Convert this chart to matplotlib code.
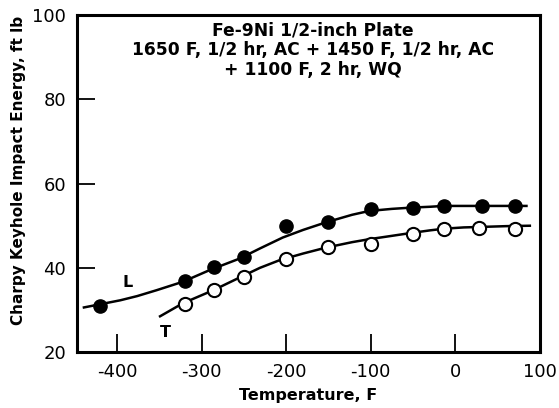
import matplotlib.pyplot as plt

# data points
temp_L = [-420, -320, -285, -250, -200, -150, -100, -50, -14, 31, 71]
energy_L = [31.0, 36.8, 40.2, 42.6, 49.9, 50.8, 53.9, 54.2, 54.7, 54.7, 54.6]

temp_T = [-320, -285, -250, -200, -150, -100, -50, -14, 28, 71]
energy_T = [31.4, 34.7, 37.9, 42.0, 44.9, 45.6, 48.0, 49.2, 49.5, 49.3]

# faired curves drawn through the points (waypoints)
curve_L_x = [-439, -396, -376, -353, -322, -290, -255, -231, -204, -180, -153, -122, -102,
             -75, -52, -30, -14, 10, 31, 60, 84]
curve_L_y = [30.6, 32.3, 33.3, 34.7, 36.7, 39.5, 42.2, 44.6, 47.2, 49.0, 50.8, 52.6, 53.5,
             54.0, 54.3, 54.5, 54.7, 54.7, 54.7, 54.7, 54.7]
curve_T_x = [-349, -322, -286, -255, -231, -208, -180, -153, -122, -102, -75, -55, -30, -13,
             10, 28, 60, 88]
curve_T_y = [28.5, 31.6, 34.7, 37.7, 40.0, 41.8, 43.4, 44.8, 46.1, 46.8, 47.6, 48.2, 48.9, 49.3,
             49.6, 49.7, 49.9, 50.0]

xticks = [-400, -300, -200, -100, 0, 100]
xtick_labels = ['-400', '-300', '-200', '-100', '0', '100']
yticks = [20, 40, 60, 80, 100]

title = 'Fe-9Ni 1/2-inch Plate\n1650 F, 1/2 hr, AC + 1450 F, 1/2 hr, AC\n+ 1100 F, 2 hr, WQ'

fig = plt.figure(figsize=(5.59, 4.08), dpi=100)
ax = fig.add_axes([0.138, 0.137, 0.828, 0.826])

ax.plot(curve_L_x, curve_L_y, 'k-', lw=1.8)
ax.plot(curve_T_x, curve_T_y, 'k-', lw=1.8)
ax.plot(temp_L, energy_L, 'o', color='black', ms=9.5, zorder=3)
ax.plot(temp_T, energy_T, 'o', mfc='white', mec='black', mew=1.5, ms=9.5, zorder=3)

ax.text(-387, 36.6, 'L', fontsize=11.5, fontweight='bold', ha='center', va='center')
ax.text(-343, 24.7, 'T', fontsize=11.5, fontweight='bold', ha='center', va='center')

ax.text(0.51, 0.982, title, transform=ax.transAxes, ha='center', va='top',
        fontsize=12.3, fontweight='bold', linespacing=1.15)

ax.set_xlim(-447, 100)
ax.set_ylim(20, 100)
ax.set_xticks(xticks)
ax.set_xticklabels(xtick_labels)
ax.set_yticks(yticks)
ax.tick_params(direction='in', length=13, width=1.3, labelsize=13, pad=8)

for s in ax.spines.values():
    s.set_linewidth(2.2)

ax.set_xlabel('Temperature, F', fontsize=11.5, fontweight='bold', labelpad=5)
ax.set_ylabel('Charpy Keyhole Impact Energy, ft lb', fontsize=11, fontweight='bold')
ax.yaxis.set_label_coords(-0.11, 0.54)

plt.savefig('out.png')
